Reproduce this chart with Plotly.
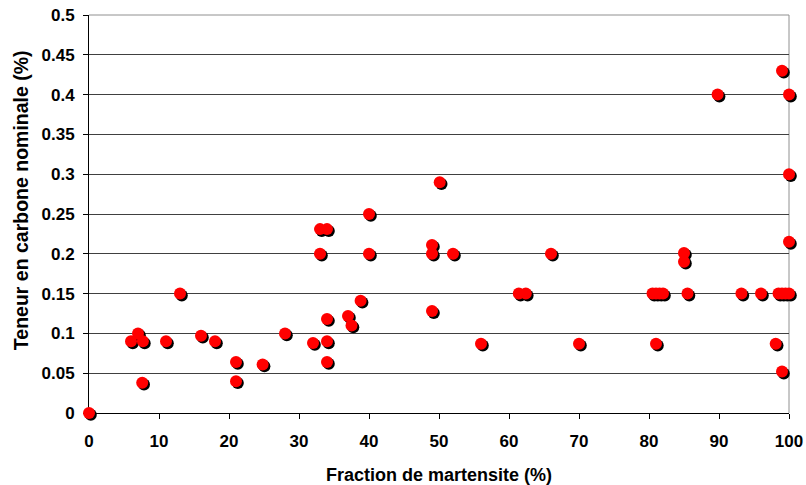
import plotly.graph_objects as go

# Data
martensite = [0, 6, 7, 7.7, 7.6, 11, 13, 16, 18, 21, 21, 24.8, 28, 32,
              33, 34, 33, 34, 34, 34, 37, 37.5, 38.8, 40, 40,
              49, 49, 49, 50.1, 52, 56, 61.4, 62.4, 66, 70,
              80.5, 81, 81.5, 82, 81, 85, 85, 85.5, 89.8, 93.2, 96,
              98.1, 98.5, 99, 99.5, 100, 99, 99, 100, 100, 100]
carbone = [0, 0.09, 0.1, 0.09, 0.038, 0.09, 0.15, 0.097, 0.09, 0.064, 0.04, 0.061, 0.1, 0.088,
           0.231, 0.231, 0.2, 0.118, 0.09, 0.064, 0.122, 0.11, 0.141, 0.25, 0.2,
           0.211, 0.2, 0.128, 0.29, 0.2, 0.087, 0.15, 0.15, 0.2, 0.087,
           0.15, 0.15, 0.15, 0.15, 0.087, 0.201, 0.19, 0.15, 0.4, 0.15, 0.15,
           0.087, 0.15, 0.15, 0.15, 0.15, 0.052, 0.43, 0.4, 0.3, 0.215]

x_ticks = [0, 10, 20, 30, 40, 50, 60, 70, 80, 90, 100]
x_ticktext = [str(v) for v in x_ticks]
y_ticks = [0, 0.05, 0.1, 0.15, 0.2, 0.25, 0.3, 0.35, 0.4, 0.45, 0.5]
y_ticktext = ["0", "0.05", "0.1", "0.15", "0.2", "0.25", "0.3", "0.35", "0.4", "0.45", "0.5"]

x_title = "Fraction de martensite (%)"
y_title = "Teneur en carbone nominale (%)"

# ---- geometry (pixels) ----
W, H = 806, 485
PL, PR, PT, PB = 89, 789, 15, 413          # plot area in the page
ML, MR, MT, MB = 80, 8, 6, 63              # outer margins (room for marker overflow)
X0, X1 = 0, 100
Y0, Y1 = 0, 0.5
paper_w = W - MR - ML
paper_h = H - MB - MT
dom_x = [(PL - ML) / paper_w, (PR - ML) / paper_w]
dom_y = [(H - MB - PB) / paper_h, (H - MB - PT) / paper_h]
kx = (PR - PL) / (X1 - X0)
ky = (PB - PT) / (Y1 - Y0)
ext_x = [X0 - (PL - ML) / kx, X1 + (W - MR - PR) / kx]
ext_y = [Y0 - (H - MB - PB) / ky, Y1 + (PT - MT) / ky]
# shadow offset: ~2 px right, ~2 px down
sdx, sdy = 1.8 / kx, -1.8 / ky

fig = go.Figure()
# invisible trace to hold the main axes
fig.add_trace(go.Scatter(x=martensite, y=carbone, mode="markers",
                         marker=dict(opacity=0), hoverinfo="skip",
                         showlegend=False, xaxis="x", yaxis="y"))
# shadow
fig.add_trace(go.Scatter(x=martensite, y=carbone, mode="markers",
                         marker=dict(size=12, color="black", line=dict(width=0)),
                         hoverinfo="skip", showlegend=False,
                         xaxis="x2", yaxis="y2"))
# red markers
fig.add_trace(go.Scatter(x=martensite, y=carbone, mode="markers",
                         marker=dict(size=12, color="#ff0000", line=dict(width=0)),
                         showlegend=False, xaxis="x3", yaxis="y3"))

hidden = dict(visible=False, showgrid=False, zeroline=False, fixedrange=True)

fig.update_layout(
    width=W, height=H,
    margin=dict(l=ML, r=MR, t=MT, b=MB, autoexpand=False),
    paper_bgcolor="white", plot_bgcolor="rgba(0,0,0,0)",
    font=dict(family="Liberation Sans, Arial, sans-serif", color="black"),
    xaxis=dict(
        domain=dom_x, range=[X0, X1], tickvals=x_ticks, ticktext=x_ticktext,
        automargin=False, anchor="y",
        showgrid=False, zeroline=False,
        showline=True, linecolor="black", linewidth=1,
        ticks="outside", ticklen=5, tickcolor="black",
        ticklabelstandoff=8, ticklabeloverflow="allow",
        tickfont=dict(size=17, weight="bold"),
        title=dict(text=x_title, standoff=25,
                   font=dict(size=18, weight="bold")),
    ),
    yaxis=dict(
        domain=dom_y, range=[Y0, Y1], tickvals=y_ticks, ticktext=y_ticktext,
        automargin=False, anchor="x",
        showgrid=True, gridcolor="#404040", gridwidth=1, zeroline=False,
        showline=True, linecolor="black", linewidth=1,
        ticks="outside", ticklen=5, tickcolor="black",
        ticklabelstandoff=5, ticklabeloverflow="allow",
        tickfont=dict(size=17, weight="bold"),
    ),
    xaxis2=dict(domain=[0, 1], anchor="y2",
                range=[ext_x[0] - sdx, ext_x[1] - sdx], **hidden),
    yaxis2=dict(domain=[0, 1], anchor="x2",
                range=[ext_y[0] - sdy, ext_y[1] - sdy], **hidden),
    xaxis3=dict(domain=[0, 1], anchor="y3",
                range=ext_x, **hidden),
    yaxis3=dict(domain=[0, 1], anchor="x3",
                range=ext_y, **hidden),
    annotations=[
        dict(text=y_title, textangle=-90, xref="x domain", yref="y domain",
             x=-0.097, y=0.535, xanchor="center", yanchor="middle",
             showarrow=False, font=dict(size=19.5, weight="bold")),
    ],
    shapes=[
        dict(type="line", xref="x domain", yref="y domain", x0=0, x1=1, y0=1, y1=1,
             line=dict(color="#909090", width=1), layer="below"),
        dict(type="line", xref="x domain", yref="y domain", x0=1, x1=1, y0=0, y1=1,
             line=dict(color="#909090", width=1), layer="below"),
    ],
)

fig.write_html("out.html", config={"displayModeBar": False},
               post_script="document.body.style.margin='0';")
